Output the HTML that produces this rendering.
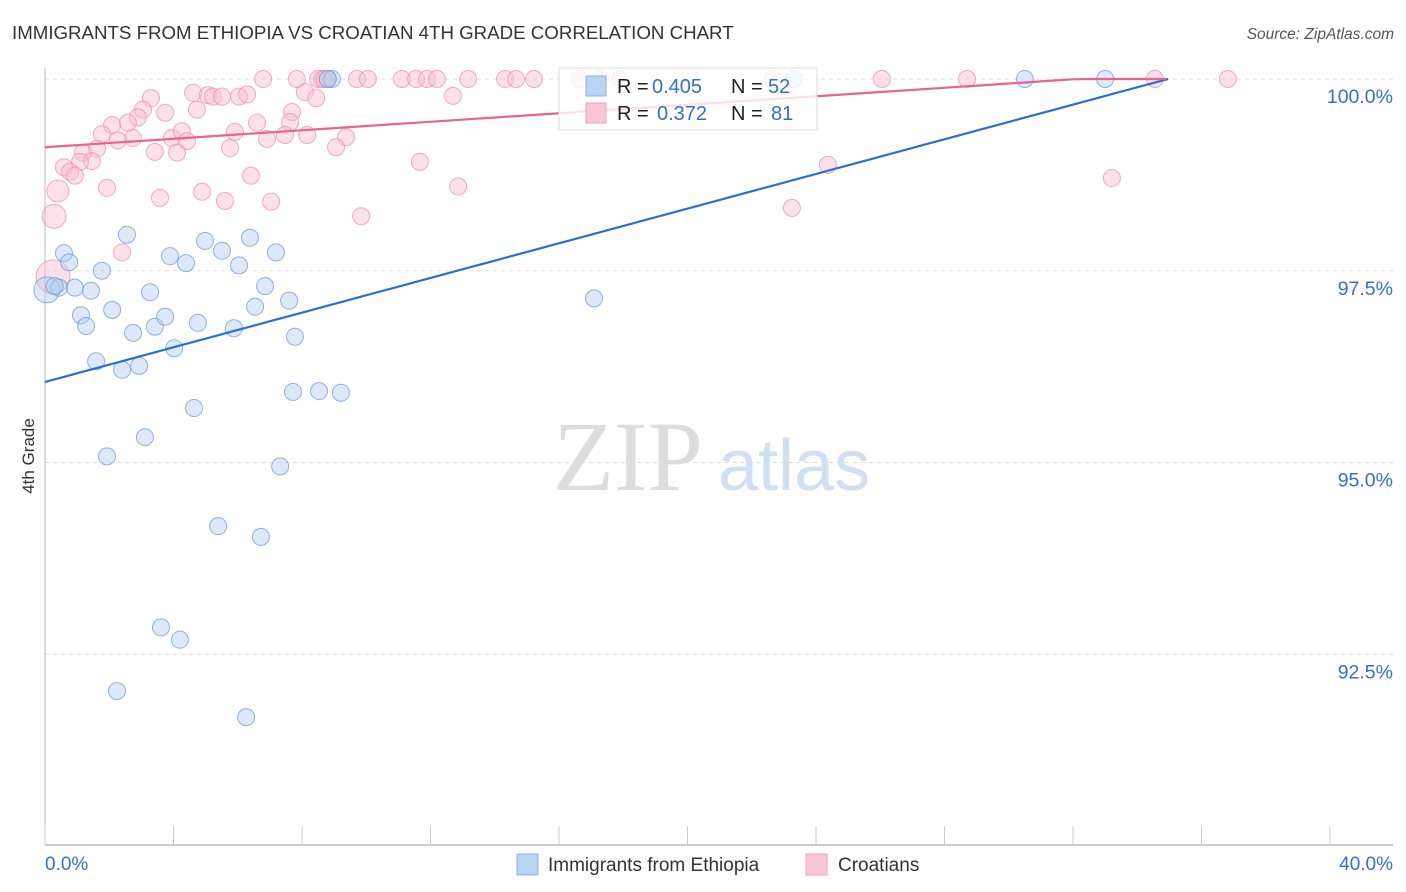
<!DOCTYPE html>
<html><head><meta charset="utf-8"><style>
body{margin:0;background:#fff;font-family:"Liberation Sans",sans-serif;}
</style></head><body>
<svg id="chart" width="1406" height="892" xmlns="http://www.w3.org/2000/svg" style="display:block">
<text x="12" y="39" font-size="18.7" fill="#333">IMMIGRANTS FROM ETHIOPIA VS CROATIAN 4TH GRADE CORRELATION CHART</text>
<text x="1394" y="39" font-size="15.5" fill="#555" font-style="italic" text-anchor="end">Source: ZipAtlas.com</text>
<g>
<text x="553" y="490" font-size="100" fill="#ddd" font-family="Liberation Serif,serif">ZIP</text>
<text x="718" y="490" font-size="72" fill="#cfe0f3">atlas</text>
</g>
<g id="grid"></g>
<g id="axes"></g>
<g id="marks"></g>
<g>
<rect x="559" y="68" width="258" height="62" fill="#fff" fill-opacity="0.8" stroke="#ddd"/>
<rect x="586" y="76" width="20" height="20" fill="#b8d3f3" stroke="#8fb3e6"/>
<rect x="586" y="103" width="20" height="20" fill="#fbc6d6" stroke="#f0a0ba"/>
<text y="93" font-size="20" fill="#222"><tspan x="617">R =</tspan><tspan x="652" fill="#3370cc">0.405</tspan><tspan x="731">N =</tspan><tspan x="768" fill="#3370cc">52</tspan></text>
<text y="120" font-size="20" fill="#222"><tspan x="617">R =</tspan><tspan x="657" fill="#3370cc">0.372</tspan><tspan x="731">N =</tspan><tspan x="771" fill="#3370cc">81</tspan></text>
</g>
<g>
<rect x="517" y="854" width="21" height="21" fill="#b8d3f3" stroke="#8fb3e6"/>
<text x="548" y="871" font-size="19" fill="#333">Immigrants from Ethiopia</text>
<rect x="806" y="854" width="21" height="21" fill="#fbc6d6" stroke="#f0a0ba"/>
<text x="838" y="871" font-size="19" fill="#333">Croatians</text>
</g>
<text transform="translate(34,456) rotate(-90)" font-size="17" fill="#333" text-anchor="middle">4th Grade</text>
</svg>
<script>
const yTicks=[100,97.5,95,92.5];
const yTickLabels=["100.0%","97.5%","95.0%","92.5%"];
const blueX=[0.06,0.59,0.75,0.44,0.93,1.43,1.77,2.55,1.12,1.28,2.09,1.59,2.40,2.74,2.93,3.27,3.42,3.74,3.89,4.39,4.02,4.76,4.98,5.51,6.04,6.38,7.19,6.85,6.54,7.60,5.88,7.78,7.72,8.53,9.21,4.64,3.11,1.93,7.32,5.39,6.72,3.61,4.20,2.24,6.26,17.09,8.93,30.5,33.0,23.3,8.8,0.3];
const blueY=[97.25,97.73,97.61,97.28,97.28,97.24,97.50,97.97,96.92,96.78,96.99,96.32,96.21,96.69,96.26,97.22,96.77,96.90,97.69,97.60,96.49,96.82,97.89,97.76,97.57,97.93,97.74,97.30,97.03,97.11,96.75,96.64,95.92,95.93,95.91,95.71,95.33,95.08,94.95,94.17,94.03,92.85,92.69,92.02,91.68,97.14,100,100,100,100,100,97.3];
const pinkX=[4.61,5.07,5.23,5.51,6.04,6.29,3.30,8.09,8.44,12.70,4.73,3.05,2.89,3.74,7.69,7.63,6.60,5.91,2.58,2.09,1.77,2.74,2.27,3.95,4.26,4.42,7.47,6.91,8.16,9.37,9.06,5.76,3.42,4.11,1.62,1.18,1.46,1.09,0.59,0.78,0.93,11.67,6.41,0.40,1.93,4.89,3.58,5.60,7.04,12.86,9.84,0.28,2.40,0.25,24.37,23.25,33.21,6.79,7.84,8.62,8.81,9.71,10.05,11.11,11.55,11.89,12.20,13.17,14.32,14.66,15.22,16.65,17.28,17.9,22.66,26.05,28.70,34.55,36.82,8.5,8.7];
const pinkY=[99.82,99.79,99.77,99.77,99.77,99.80,99.75,99.83,99.75,99.78,99.60,99.60,99.50,99.56,99.57,99.44,99.43,99.31,99.43,99.40,99.28,99.23,99.20,99.23,99.32,99.19,99.27,99.22,99.27,99.24,99.11,99.10,99.05,99.04,99.09,99.04,98.93,98.92,98.85,98.79,98.74,98.92,98.74,98.54,98.58,98.53,98.45,98.41,98.40,98.60,98.21,98.21,97.74,97.42,98.88,98.32,98.71,100,100,100,100,100,100,100,100,100,100,100,100,100,100,100,100,100,100,100,100,100,100,100,100];
const blueTrend=[96.05,0.113,34.96];
const pinkTrend=[99.11,0.0277,34.9];
const X=v=>45+v*32.125, Y=v=>79+(100-v)*76.7;
const NS="http://www.w3.org/2000/svg";
function mk(tag,attrs,parent){const e=document.createElementNS(NS,tag);for(const k in attrs)e.setAttribute(k,attrs[k]);parent.appendChild(e);return e;}
const grid=document.getElementById('grid'),axes=document.getElementById('axes'),marks=document.getElementById('marks');
yTicks.forEach((t,i)=>{
 const l=mk('line',{x1:45,x2:1393,y1:Y(t),y2:Y(t),stroke:'#ddd','stroke-dasharray':'4,4'},grid);
 
 
 const tx=mk('text',{x:1393,y:Y(t)+24,'font-size':19.5,fill:'#3370cc','text-anchor':'end'},axes);
 tx.textContent=yTickLabels[i];
 
 
});
const ya=mk('line',{x1:45,x2:45,y1:68,y2:845,stroke:'#bbb'},axes);


const xa=mk('line',{x1:45,x2:1393,y1:845,y2:845,stroke:'#bbb','stroke-width':1.5},axes);


for(let i=0;i<=10;i++){
 const tk=mk('line',{x1:X(i*4),x2:X(i*4),y1:826,y2:845,stroke:'#ccc'},axes);
 
 
}
[["0.0%",45,'start'],["40.0%",1393,'end']].forEach(a=>{
 const t=mk('text',{x:a[1],y:870,'font-size':19,fill:'#3370cc','text-anchor':a[2]},axes);t.textContent=a[0];
 
 
});
function dots(xs,ys,fill,stroke,name){
 xs.forEach((x,i)=>{
  let r=8.5; if(x<0.5&&name==='pink-point'&&ys[i]<98.3)r=ys[i]<97.6?17:12; if(x<0.1&&name==='blue-point')r=13; if(x<0.5&&name==='pink-point'&&ys[i]>98.5&&ys[i]<98.6)r=11;
  const c=mk('circle',{cx:X(x),cy:Y(ys[i]),r:r,fill:fill,'fill-opacity':0.45,stroke:stroke,'stroke-opacity':0.7,'stroke-width':1},marks);
  
  
 });
}
dots(pinkX,pinkY,'#f9bdd0','#ec8aab','pink-point');
dots(blueX,blueY,'#b3cff2','#5f95dc','blue-point');
function trend(t,color,name){
 const pts=[];const n=60;
 for(let i=0;i<=n;i++){const x=t[2]*i/n;pts.push(X(x)+','+Y(Math.min(100,t[0]+t[1]*x)));}
 const p=mk('polyline',{points:pts.join(' '),fill:'none',stroke:color,'stroke-width':2.2},marks);
 
 
}
trend(blueTrend,'#2a6fd6','blue-trend-line');
trend(pinkTrend,'#e8648f','pink-trend-line');
</script>
</body></html>
